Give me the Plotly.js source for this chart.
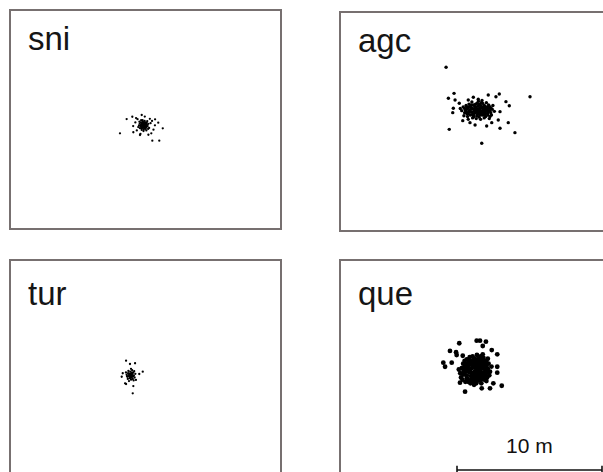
<!DOCTYPE html>
<html>
<head>
<meta charset="utf-8">
<script src="https://cdn.plot.ly/plotly-3.0.1.min.js"></script>
<style>
  html, body { margin: 0; padding: 0; background: #ffffff; overflow: hidden; }
  #chart { width: 620px; height: 490px; }
</style>
</head>
<body>
<div id="chart"></div>
<script>
// Position fixes for four species, offsets in metres (east, north)
const panelNames = ["sni", "agc", "tur", "que"];

const sniX = [-0.15,-0.05,-0.25,-0.10,-0.30,0.02,-0.20,-0.08,-0.35,0.10,-0.18,-0.02,-0.28,0.05,-0.12,-0.40,0.15,-0.22,-0.06,-0.32,0.08,-0.16,-0.45,0.20,-0.26,-0.10,0.00,-0.38,0.12,-0.20,-0.04,-0.50,0.25,-0.14,-0.30,0.06,-0.24,0.18,-0.42,-0.08,-0.13,-0.22,-0.02,-0.18,0.04,
  -0.12,-0.20,-0.08,-0.25,-0.15,-0.05,-0.28,0.00,-0.10,-0.22,0.08,-0.34,
  -0.70,0.45,-0.60,0.55,0.30,-0.55,0.40,-0.05,-0.35,0.65,-0.85,0.20,-0.65,0.35,
  -1.76,-1.30,-0.91,0.47,0.95,1.19,0.88,0.66,-0.26,-0.84,-0.38];
const sniY = [-0.38,-0.30,-0.45,-0.50,-0.35,-0.42,-0.25,-0.60,-0.48,-0.35,-0.15,-0.20,-0.62,-0.55,-0.70,-0.28,-0.45,-0.55,-0.10,-0.20,-0.22,-0.40,-0.40,-0.30,-0.72,-0.32,-0.65,-0.60,-0.12,-0.05,-0.48,-0.52,-0.58,-0.80,-0.05,-0.75,-0.30,-0.65,-0.15,-0.42,-0.27,-0.47,-0.37,-0.58,-0.28,
  -0.35,-0.40,-0.45,-0.38,-0.52,-0.55,-0.50,-0.32,-0.22,-0.20,-0.48,-0.40,
  -0.20,-0.10,-0.75,-0.70,0.05,0.02,-0.95,0.20,-1.00,-0.40,-0.45,-1.05,0.10,-0.25,
  -0.95,0.03,0.19,-1.46,-1.46,-0.61,-0.22,0.01,0.31,-0.88,-1.07];

const agcX = [0.17,-0.20,0.50,-0.50,0.80,0.00,0.35,-0.35,0.65,-0.70,0.95,0.10,-0.15,0.45,-0.85,1.05,0.25,-0.45,0.75,-0.05,0.55,-0.60,0.90,0.30,-0.30,0.15,-0.75,1.15,0.60,-0.10,0.40,-0.55,0.85,-0.25,0.05,1.20,-0.95,0.70,-0.40,0.20,0.50,-0.65,1.00,-0.20,0.35,-1.05,0.80,0.10,-0.35,0.60,-0.80,1.30,0.45,-0.50,0.25,-0.10,0.70,-0.60,0.95,0.00,
  -0.60,-0.45,-0.30,-0.15,0.00,0.15,0.30,0.45,0.60,0.75,0.90,1.05,-0.75,-0.50,-0.25,0.05,0.20,0.40,0.55,0.70,0.85,1.00,-0.40,-0.20,0.10,0.30,0.50,0.65,0.80,-0.05,0.25,0.40,-0.30,0.15,0.35,-0.65,0.95,1.10,-0.10,0.60,
  -2.03,3.76,-1.87,-1.48,-1.81,0.43,1.69,2.26,2.72,2.10,2.33,1.64,1.41,0.88,-1.53,-1.57,-1.41,1.69,1.57,-0.03,-0.38,0.77,1.12,-0.88,-1.12,0.19,-0.15,-0.50];
const agcY = [0.86,0.90,0.80,0.95,0.75,0.60,1.10,0.65,1.05,0.80,0.90,1.25,0.40,0.45,1.00,0.60,0.30,1.20,1.30,1.05,0.65,0.55,1.15,0.95,1.00,0.50,0.60,0.85,0.25,0.75,0.70,0.35,0.45,1.35,0.20,1.10,0.75,0.55,0.80,1.40,1.25,1.10,0.35,0.25,0.15,0.90,1.00,0.85,0.45,0.90,0.40,0.70,1.45,0.15,0.70,0.55,0.80,0.85,0.20,1.20,
  1.00,0.70,0.85,1.15,0.95,1.05,0.80,0.95,1.10,0.95,0.70,0.95,0.90,0.55,0.65,0.70,0.60,0.55,0.45,0.35,0.60,0.75,1.05,0.50,0.40,0.45,1.00,0.70,0.85,0.85,1.20,1.30,1.15,0.75,0.60,0.70,1.05,0.45,0.35,0.55,
  3.74,1.71,1.60,1.94,-0.54,-1.50,-0.47,-0.08,-0.77,1.37,1.09,1.90,1.71,1.83,0.91,0.61,1.48,0.68,0.10,-0.24,-0.08,-0.31,-0.08,0.06,1.26,1.53,1.67,1.48];

const turX = [-1.02,-0.90,-1.15,-0.95,-1.20,-0.80,-1.05,-1.10,-0.85,-1.25,-0.75,-1.00,-1.18,-0.88,-1.30,-0.92,-0.70,-1.08,-0.98,-1.22,-0.82,-1.35,-0.96,-1.12,-0.86,-1.04,-1.28,-0.78,-1.00,-1.14,
  -1.00,-0.95,-1.08,-1.05,-0.90,-1.15,-1.00,-0.92,
  -1.34,-0.72,-1.07,-0.19,-0.43,-1.57,-1.64,-1.41,-1.34,-0.84,-0.88,-0.66];
const turY = [-0.38,-0.30,-0.45,-0.55,-0.25,-0.40,-0.15,-0.60,-0.20,-0.50,-0.55,-0.70,-0.10,-0.65,-0.35,-0.05,-0.30,-0.28,-0.48,-0.65,-0.75,-0.20,-0.22,-0.38,-0.48,-0.58,-0.45,-0.12,0.05,-0.80,
  -0.40,-0.35,-0.45,-0.30,-0.45,-0.30,-0.52,-0.25,
  0.61,0.43,0.38,-0.15,-0.31,-0.26,-0.50,-0.95,-1.00,-1.14,-1.64,-0.72];

const queX = [-0.05,0.30,-0.40,0.10,-0.20,0.55,-0.65,0.25,-0.30,0.70,-0.80,0.05,0.45,-0.55,0.85,-0.95,0.20,-0.15,0.60,-0.45,1.00,-1.05,0.35,-0.10,0.75,-0.70,0.90,-0.85,0.40,-0.35,0.15,-0.25,0.50,-0.60,0.00,0.65,-0.40,0.25,-0.15,0.80,-1.00,0.10,-0.20,0.55,-0.75,1.10,-1.15,0.30,-0.50,0.40,-0.05,0.15,-0.30,0.70,-0.70,0.50,0.00,-0.90,0.95,0.20,-0.50,0.85,-0.25,0.35,-0.10,0.60,-0.80,0.05,0.75,-0.60,
  -0.90,-0.75,-0.60,-0.45,-0.30,-0.15,0.00,0.15,0.30,0.45,0.60,0.75,0.90,-0.35,-0.05,0.25,0.45,0.65,-0.50,-0.20,0.10,0.45,0.65,-0.80,-0.65,0.20,-0.35,0.80,0.05,-0.10,0.40,-0.55,0.30,0.10,-0.25,
  -1.12,0.08,0.31,0.72,0.50,1.12,1.50,-1.76,-1.34,-1.30,-0.88,-2.22,-2.10,-1.64,1.50,1.50,1.81,1.23,1.00,0.43,-0.72,-1.07,-0.15];
const queY = [-0.15,-0.10,-0.20,0.25,-0.50,0.15,0.05,-0.55,0.35,-0.30,-0.35,-0.80,0.50,-0.65,0.05,0.10,0.65,0.60,-0.70,0.55,-0.15,-0.25,0.90,-1.05,0.60,-0.85,0.40,0.40,-0.95,-0.95,-0.35,0.10,-0.40,-0.40,0.40,0.35,0.85,0.15,-0.30,-0.55,-0.55,1.00,0.90,0.80,0.60,0.20,0.00,-0.75,-0.10,0.30,0.15,-0.60,-0.70,-0.05,-0.15,1.05,-0.45,-0.70,-0.40,0.45,0.30,0.75,-0.25,0.05,0.75,-0.20,-0.05,-0.95,-0.80,0.70,
  -0.30,0.20,-0.60,0.00,-0.45,0.30,-0.20,0.10,-0.40,0.10,0.10,0.20,-0.20,0.60,0.55,0.75,0.70,0.55,-0.85,-0.80,-0.80,-0.65,-0.45,0.10,0.40,-0.15,-0.15,-0.10,0.05,-0.55,-0.20,0.15,0.40,0.70,0.45,
  1.81,1.99,1.99,1.92,1.62,1.34,1.05,1.28,1.19,1.00,0.95,0.47,0.19,0.47,0.19,-0.22,-1.12,-0.95,-1.30,-1.30,-1.53,-0.91,-0.72];

const scaleBarLength = 10;          // metres
const scaleBarLabel = "10 m";

// Page geometry (pixels) for the 2x2 grid of frames
const W = 620, H = 490;
const frames = [
  {x0: 11,  x1: 280, y0: 11,  y1: 228},
  {x0: 341, x1: 610, y0: 13,  y1: 230},
  {x0: 11,  x1: 280, y0: 261, y1: 478},
  {x0: 341, x1: 610, y0: 261, y1: 478}
];
const pxPerMetre = 14.5;
const markerSizes = [2.3, 3.4, 2.3, 4.8];
const series = [[sniX, sniY], [agcX, agcY], [turX, turY], [queX, queY]];

const frameColor = "#777070";
const traces = [];
const layout = {
  width: W, height: H,
  margin: {l: 0, r: 0, t: 0, b: 0},
  paper_bgcolor: "#ffffff",
  plot_bgcolor: "#ffffff",
  showlegend: false,
  annotations: [],
  shapes: []
};

frames.forEach((f, i) => {
  const n = i === 0 ? "" : String(i + 1);
  const halfW = (f.x1 - f.x0) / pxPerMetre / 2;
  const halfH = (f.y1 - f.y0) / pxPerMetre / 2;
  const axBase = {
    showline: true, mirror: true, linecolor: frameColor, linewidth: 2,
    showgrid: false, zeroline: false, showticklabels: false, ticks: "",
    fixedrange: true
  };
  layout["xaxis" + n] = Object.assign({}, axBase, {
    domain: [f.x0 / W, f.x1 / W], range: [-halfW, halfW], anchor: "y" + n
  });
  layout["yaxis" + n] = Object.assign({}, axBase, {
    domain: [1 - f.y1 / H, 1 - f.y0 / H], range: [-halfH, halfH], anchor: "x" + n
  });
  traces.push({
    type: "scatter", mode: "markers",
    x: series[i][0], y: series[i][1],
    xaxis: "x" + n, yaxis: "y" + n,
    marker: {color: "#000000", size: markerSizes[i], line: {width: 0}},
    hoverinfo: "skip"
  });
  const topOffset = i < 2 ? 27.5 : 32.5;
  layout.annotations.push({
    text: panelNames[i], showarrow: false,
    xref: "x" + n + " domain", yref: "y" + n + " domain",
    x: 15 / (f.x1 - f.x0), y: 1 - topOffset / (f.y1 - f.y0),
    xanchor: "left", yanchor: "middle",
    font: {family: "Liberation Sans, Arial, sans-serif", size: 33, color: "#151515"}
  });
});

// Scale bar in the last frame
const q = frames[3];
const qHalfW = (q.x1 - q.x0) / pxPerMetre / 2;
const qHalfH = (q.y1 - q.y0) / pxPerMetre / 2;
const barX0 = (457 - q.x0) / pxPerMetre - qHalfW;
const barX1 = barX0 + scaleBarLength;
const barY = qHalfH - (470 - q.y0) / pxPerMetre;
const tickHalf = 0.3;
const barLine = {color: "#111111", width: 1.6};
layout.shapes.push(
  {type: "line", xref: "x4", yref: "y4", x0: barX0, x1: barX1, y0: barY, y1: barY, line: barLine},
  {type: "line", xref: "x4", yref: "y4", x0: barX0, x1: barX0, y0: barY - tickHalf, y1: barY + tickHalf, line: barLine},
  {type: "line", xref: "x4", yref: "y4", x0: barX1, x1: barX1, y0: barY - tickHalf, y1: barY + tickHalf, line: barLine}
);
layout.annotations.push({
  text: scaleBarLabel, showarrow: false,
  xref: "x4", yref: "y4",
  x: (barX0 + barX1) / 2, y: qHalfH - (445.5 - q.y0) / pxPerMetre,
  xanchor: "center", yanchor: "middle",
  font: {family: "Liberation Sans, Arial, sans-serif", size: 21, color: "#111111"}
});

Plotly.newPlot("chart", traces, layout, {staticPlot: true, displayModeBar: false});
</script>
</body>
</html>
